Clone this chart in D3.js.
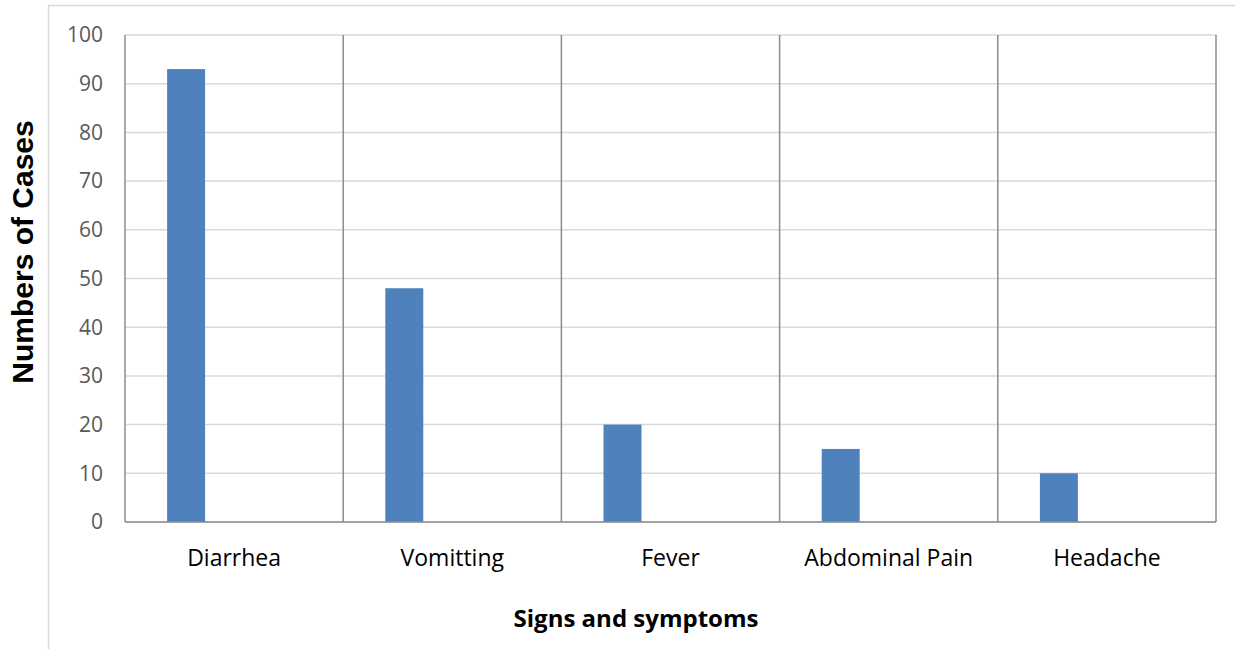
<!DOCTYPE html>
<html>
<head>
<meta charset="utf-8">
<script src="https://cdn.jsdelivr.net/npm/d3@7"></script>
<style>
  body { margin: 0; background: #fff; }
  svg { display: block; }
</style>
</head>
<body>
<svg class="chart" width="1235" height="649"></svg>
<script>
// data
var categories = ["Diarrhea", "Vomitting", "Fever", "Abdominal Pain", "Headache"];
var cases = [93, 48, 20, 15, 10];
var yTicks = [0, 10, 20, 30, 40, 50, 60, 70, 80, 90, 100];

var svg = d3.select("svg.chart"),
    margin = {top: 35, right: 19, bottom: 127, left: 125};
var width = 1235 - margin.left - margin.right,
    height = 649 - margin.top - margin.bottom;

// outer chart frame
svg.append("rect")
    .attr("x", 48.5).attr("y", 5.5)
    .attr("width", 1200).attr("height", 700)
    .attr("fill", "none")
    .attr("stroke", "#d9d9d9")
    .attr("stroke-width", 1.5);

var g = svg.append("g").attr("transform", "translate(" + margin.left + "," + margin.top + ")");

var x = d3.scaleBand()
    .domain(categories)
    .range([0, width]);
var y = d3.scaleLinear()
    .domain([0, 100])
    .range([height, 0]);

// horizontal gridlines
g.selectAll("line.grid")
  .data(yTicks)
  .enter().append("line")
    .attr("class", "grid")
    .attr("x1", 0).attr("x2", width)
    .attr("y1", function(d) { return y(d); })
    .attr("y2", function(d) { return y(d); })
    .attr("stroke", "#d9d9d9")
    .attr("stroke-width", 1.5);

// category dividers
g.selectAll("line.div")
  .data(categories)
  .enter().append("line")
    .attr("class", "div")
    .attr("x1", function(d) { return x(d) + x.bandwidth(); })
    .attr("x2", function(d) { return x(d) + x.bandwidth(); })
    .attr("y1", 0).attr("y2", height)
    .attr("stroke", "#8c8c8c")
    .attr("stroke-width", 1.5);

// bars sit in the left part of each band
var bw = x.bandwidth();
g.selectAll("rect.bar")
  .data(cases)
  .enter().append("rect")
    .attr("class", "bar")
    .attr("x", function(d, i) { return x(categories[i]) + bw * 0.193; })
    .attr("width", bw * 0.174)
    .attr("y", function(d) { return y(d); })
    .attr("height", function(d) { return height - y(d); })
    .attr("fill", "#4f81bd");

// axes lines
g.append("line")
    .attr("x1", 0).attr("x2", 0).attr("y1", 0).attr("y2", height)
    .attr("stroke", "#8c8c8c").attr("stroke-width", 1.5);
g.append("line")
    .attr("x1", 0).attr("x2", width).attr("y1", height).attr("y2", height)
    .attr("stroke", "#8c8c8c").attr("stroke-width", 1.5);

// y tick labels
g.selectAll("text.ytick")
  .data(yTicks)
  .enter().append("text")
    .attr("class", "ytick")
    .attr("x", -22)
    .attr("y", function(d) { return y(d); })
    .attr("dy", "0.35em")
    .attr("text-anchor", "end")
    .attr("font-family", "Open Sans, sans-serif")
    .attr("font-size", 21)
    .attr("fill", "#595959")
    .text(function(d) { return d; });

// category labels
g.selectAll("text.xtick")
  .data(categories)
  .enter().append("text")
    .attr("class", "xtick")
    .attr("x", function(d) { return x(d) + bw / 2; })
    .attr("y", height + 44)
    .attr("text-anchor", "middle")
    .attr("font-family", "Open Sans, sans-serif")
    .attr("font-size", 23)
    .attr("fill", "#000")
    .text(function(d) { return d; });

// axis titles
svg.append("text")
    .attr("x", 636).attr("y", 627)
    .attr("text-anchor", "middle")
    .attr("font-family", "Open Sans, sans-serif")
    .attr("font-weight", "bold")
    .attr("font-size", 24)
    .text("Signs and symptoms");

svg.append("text")
    .attr("transform", "translate(33,252) rotate(-90)")
    .attr("text-anchor", "middle")
    .attr("font-family", "Liberation Sans, Arial, sans-serif")
    .attr("font-weight", "bold")
    .attr("font-size", 30)
    .text("Numbers of Cases");
</script>
</body>
</html>
